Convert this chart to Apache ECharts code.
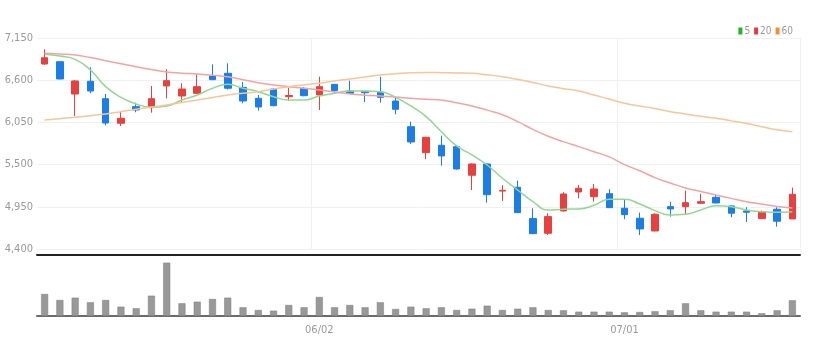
<!DOCTYPE html>
<html>
<head>
<meta charset="utf-8">
<script src="https://cdn.jsdelivr.net/npm/echarts@6/dist/echarts.min.js"></script>
<style>
  html, body { margin: 0; padding: 0; background: #fff; }
  #chart { width: 817px; height: 355px; }
</style>
</head>
<body>
<div id="chart"></div>
<script>
/* ── Data ─────────────────────────────────────────────────────────── */
const dates = [
  '05/07','05/08','05/09','05/12','05/13','05/14','05/15','05/16','05/19','05/20',
  '05/21','05/22','05/23','05/26','05/27','05/28','05/29','05/30','06/02','06/03',
  '06/04','06/05','06/09','06/10','06/11','06/12','06/13','06/16','06/17','06/18',
  '06/19','06/20','06/23','06/24','06/25','06/26','06/27','06/30','07/01','07/02',
  '07/03','07/04','07/07','07/08','07/09','07/10','07/11','07/14','07/15','07/16'
];
const opens = [
  6811,6841,6420,6586,6359,6039,6255,6242,6525,6394,
  6429,6655,6690,6507,6364,6485,6385,6494,6407,6546,
  6459,6455,6446,6329,5994,5656,5752,5734,5361,5508,
  5155,5205,4796,4605,4896,5143,5082,5121,4931,4801,
  4635,4952,4952,4996,5074,4961,4896,4796,4918,4792
];
const closes = [
  6893,6616,6590,6459,6042,6104,6212,6359,6594,6485,
  6516,6607,6495,6329,6251,6268,6400,6398,6516,6464,
  6429,6437,6377,6221,5795,5856,5613,5443,5508,5108,
  5165,4874,4600,4822,5117,5192,5182,4939,4848,4661,
  4853,4922,5004,5017,5000,4866,4879,4883,4762,5113
];
const lows = [
  6800,6610,6134,6430,6012,6003,6182,6177,6364,6307,
  6420,6600,6480,6299,6203,6260,6329,6390,6212,6420,
  6425,6316,6307,6156,5769,5570,5486,5435,5169,5004,
  5026,4870,4595,4583,4890,5061,5017,4935,4788,4583,
  4630,4822,4853,4990,4995,4814,4752,4790,4692,4790
];
const highs = [
  7003,6850,6600,6768,6420,6190,6307,6525,6742,6560,
  6677,6807,6820,6577,6407,6500,6502,6510,6646,6550,
  6594,6460,6646,6377,6060,5860,5877,5740,5515,5515,
  5231,5291,4931,4866,5140,5235,5248,5179,5048,4874,
  4866,5017,5160,5117,5117,4965,4944,4900,4944,5200
];
const ma5 = [
  6937,6915,6872,6733,6516,6377,6290,6247,6264,6342,
  6407,6494,6546,6494,6450,6385,6342,6342,6394,6429,
  6459,6459,6450,6377,6264,6125,5929,5743,5626,5495,
  5322,5169,5017,4909,4918,4922,4970,5048,5048,4987,
  4900,4844,4853,4909,4965,4952,4909,4887,4879,4887
];
const ma20 = [
  6950,6940,6928,6895,6854,6815,6776,6740,6707,6692,
  6681,6665,6646,6605,6568,6538,6516,6495,6472,6445,
  6420,6405,6394,6380,6364,6352,6342,6305,6264,6210,
  6150,6060,5960,5870,5799,5734,5668,5600,5500,5420,
  5330,5260,5195,5150,5104,5060,5017,4985,4955,4935
];
const ma60 = [
  6081,6099,6117,6138,6160,6190,6221,6249,6277,6310,
  6342,6375,6407,6430,6450,6485,6516,6538,6560,6590,
  6616,6642,6668,6685,6698,6700,6698,6695,6690,6670,
  6646,6610,6570,6525,6490,6459,6407,6355,6299,6265,
  6230,6190,6160,6130,6104,6070,6035,5994,5955,5929
];
const volumes = [
  220,160,183,137,160,93,77,203,533,127,
  143,170,183,87,60,53,110,87,190,87,
  110,87,137,70,93,77,87,60,73,103,
  60,73,87,60,57,43,43,43,37,40,
  47,57,127,57,43,43,43,27,57,157
];
const priceTicks = { min: 4400, max: 7150, step: 550 };

/* ── Helpers ──────────────────────────────────────────────────────── */
const FONT = '"Liberation Sans Narrow", "DejaVu Sans Condensed", "Liberation Sans", sans-serif';

function isMonthStart(idx) {
  return idx > 0 && dates[idx].slice(0, 2) !== dates[idx - 1].slice(0, 2);
}

const candles = dates.map((d, i) => [opens[i], closes[i], lows[i], highs[i]]);

/* ── Chart ────────────────────────────────────────────────────────── */
const chart = echarts.init(document.getElementById('chart'));

chart.setOption({
  animation: false,
  backgroundColor: '#fff',
  legend: {
    top: 21,
    right: 19,
    itemWidth: 4,
    itemHeight: 7,
    itemGap: 4,
    icon: 'rect',
    textStyle: { fontSize: 10, color: '#999', fontFamily: FONT, padding: [0, 0, 0, -3] },
    data: [
      { name: '5', itemStyle: { color: '#22b522' } },
      { name: '20', itemStyle: { color: '#e83a3a' } },
      { name: '60', itemStyle: { color: '#f0902e' } }
    ]
  },
  grid: [
    { left: 37, right: 17, top: 38, bottom: 106 },
    { left: 37, right: 17, top: 255, bottom: 39 }
  ],
  xAxis: [
    {
      type: 'category',
      data: dates,
      gridIndex: 0,
      boundaryGap: true,
      axisLine: { show: false },
      axisTick: { show: false },
      axisLabel: { show: false },
      splitLine: {
        show: true,
        interval: (i) => isMonthStart(i),
        lineStyle: { color: '#eef0f3', width: 1 }
      }
    },
    {
      type: 'category',
      data: dates,
      gridIndex: 1,
      boundaryGap: true,
      axisLine: { lineStyle: { color: '#6b6b6b', width: 2 } },
      axisTick: {
        interval: (i) => isMonthStart(i),
        alignWithLabel: true,
        length: 4,
        lineStyle: { color: '#555' }
      },
      axisLabel: {
        interval: (i) => isMonthStart(i),
        color: '#999',
        fontSize: 11,
        fontFamily: FONT,
        margin: 9
      },
      splitLine: { show: false }
    },
    {
      type: 'category',
      data: dates,
      gridIndex: 1,
      position: 'top',
      axisLine: { lineStyle: { color: '#222', width: 2 } },
      axisTick: { show: false },
      axisLabel: { show: false }
    }
  ],
  yAxis: [
    {
      type: 'value',
      gridIndex: 0,
      min: priceTicks.min,
      max: priceTicks.max,
      interval: priceTicks.step,
      axisLine: { show: false },
      axisTick: { show: false },
      axisLabel: {
        color: '#999',
        fontSize: 11,
        fontFamily: FONT,
        margin: 4,
        formatter: (v) => v.toLocaleString('en-US')
      },
      splitLine: { lineStyle: { color: '#eef0f3', width: 1 } }
    },
    {
      type: 'value',
      gridIndex: 1,
      min: 0,
      max: 610,
      axisLine: { show: false },
      axisTick: { show: false },
      axisLabel: { show: false },
      splitLine: { show: false }
    }
  ],
  series: [
    {
      name: 'price',
      type: 'candlestick',
      xAxisIndex: 0,
      yAxisIndex: 0,
      data: candles,
      barWidth: 7,
      itemStyle: {
        color: '#e8403f',
        color0: '#1a7ee6',
        borderColor: '#e8403f',
        borderColor0: '#1a7ee6',
        borderWidth: 1
      }
    },
    {
      name: '5', type: 'line', data: ma5, smooth: true, symbol: 'none',
      lineStyle: { color: '#92d892', width: 1.5 }, itemStyle: { color: '#22b522' }
    },
    {
      name: '20', type: 'line', data: ma20, smooth: true, symbol: 'none',
      lineStyle: { color: '#f4a3a3', width: 1.5 }, itemStyle: { color: '#e83a3a' }
    },
    {
      name: '60', type: 'line', data: ma60, smooth: true, symbol: 'none',
      lineStyle: { color: '#f7c598', width: 1.5 }, itemStyle: { color: '#f0902e' }
    },
    {
      name: 'volume',
      type: 'bar',
      xAxisIndex: 1,
      yAxisIndex: 1,
      data: volumes,
      barWidth: 7,
      itemStyle: { color: '#999', borderColor: '#7d7d7d', borderWidth: 0.5 }
    }
  ]
});
</script>
</body>
</html>
